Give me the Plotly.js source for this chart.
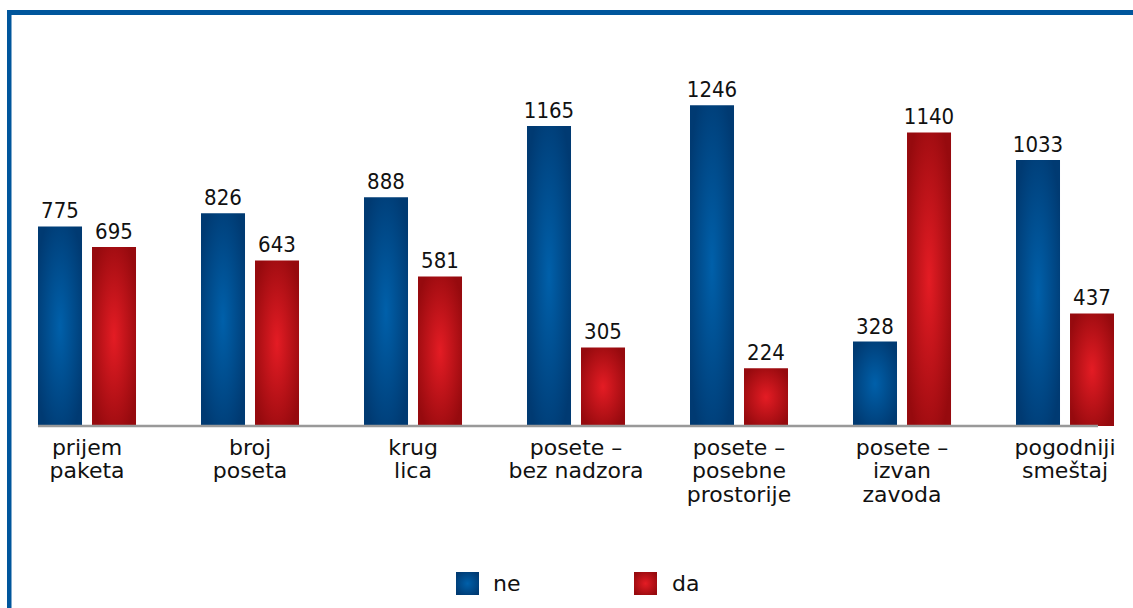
<!DOCTYPE html>
<html>
<head>
<meta charset="utf-8">
<script src="https://cdn.plot.ly/plotly-3.0.1.min.js"></script>
<style>
html,body{margin:0;padding:0;background:#fff;}
#chart{width:1133px;height:608px;}
</style>
</head>
<body>
<div id="chart"></div>
<script>
// ---- data ----
const categories = ['prijem paketa', 'broj poseta', 'krug lica', 'posete – bez nadzora', 'posete – posebne prostorije', 'posete – izvan zavoda', 'pogodniji smeštaj'];
const categoryLines = [
  ['prijem', 'paketa'],
  ['broj', 'poseta'],
  ['krug', 'lica'],
  ['posete –', 'bez nadzora'],
  ['posete –', 'posebne', 'prostorije'],
  ['posete –', 'izvan', 'zavoda'],
  ['pogodniji', 'smeštaj']
];
const seriesNames = ['ne', 'da'];
const neValues = [775, 826, 888, 1165, 1246, 328, 1033];
const daValues = [695, 643, 581, 305, 224, 1140, 437];

// ---- layout helpers (pixel geometry) ----
const W = 1133, H = 608;
const mL = 38, mR = 19, mT = 60, mB = 182;
const plotW = W - mL - mR, plotH = H - mT - mB;
const px2x = px => (px - mL) / plotW;
const py2y = py => (H - mB - py) / plotH;

const numFont = {family: 'DejaVu Sans Condensed, DejaVu Sans, sans-serif', size: 22, color: '#111'};
const tickText = categoryLines.map(lines => lines.map(l => '<span style="font-size:22px">' + l + '</span>').join('<br>'));

const traces = [
  {
    type: 'bar', name: seriesNames[0], x: categories, y: neValues,
    offset: -0.3006, width: 0.27,
    marker: {color: '#004a8a', line: {width: 0}},
    text: neValues.map(String), textposition: 'outside', cliponaxis: false,
    constraintext: 'none',
    textfont: numFont, hoverinfo: 'x+y'
  },
  {
    type: 'bar', name: seriesNames[1], x: categories, y: daValues,
    offset: 0.0307, width: 0.27,
    marker: {color: '#b8111a', line: {width: 0}},
    text: daValues.map(String), textposition: 'outside', cliponaxis: false,
    constraintext: 'none',
    textfont: numFont, hoverinfo: 'x+y'
  }
];

const blue = '#00569c';
const layout = {
  width: W, height: H,
  margin: {l: mL, r: mR, t: mT, b: mB, pad: 0},
  paper_bgcolor: '#ffffff', plot_bgcolor: '#ffffff',
  showlegend: false,
  barmode: 'overlay',
  font: {family: 'DejaVu Sans, sans-serif', color: '#111'},
  xaxis: {
    type: 'category', range: [-0.3006, 6.3006],
    tickvals: categories, ticktext: tickText,
    tickfont: {family: 'DejaVu Sans, sans-serif', size: 18, color: '#111'},
    showgrid: false, zeroline: false, showline: false, ticks: '', fixedrange: true,
    ticklabelstandoff: 10
  },
  yaxis: {
    range: [0, 1421.4], showgrid: false, zeroline: false, showline: false,
    showticklabels: false, ticks: '', fixedrange: true
  },
  shapes: [
    // axis baseline
    {type: 'line', xref: 'paper', yref: 'paper', x0: 0, x1: px2x(1098), y0: 0, y1: 0,
     line: {color: '#999999', width: 2.5}, layer: 'above'},
    // frame: left and top border
    {type: 'rect', xref: 'paper', yref: 'paper', x0: px2x(7), x1: px2x(11.5), y0: py2y(610), y1: py2y(10),
     fillcolor: blue, line: {width: 0}},
    {type: 'rect', xref: 'paper', yref: 'paper', x0: px2x(7), x1: px2x(1135), y0: py2y(15), y1: py2y(10),
     fillcolor: blue, line: {width: 0}},
    // legend swatches
    {type: 'rect', xref: 'paper', yref: 'paper', x0: px2x(456), x1: px2x(479), y0: py2y(595), y1: py2y(572),
     fillcolor: '#004a8a', line: {width: 0}},
    {type: 'rect', xref: 'paper', yref: 'paper', x0: px2x(634), x1: px2x(657), y0: py2y(595), y1: py2y(572),
     fillcolor: '#b8111a', line: {width: 0}}
  ],
  annotations: [
    {xref: 'paper', yref: 'paper', x: px2x(491), y: py2y(583), xanchor: 'left', yanchor: 'middle',
     text: seriesNames[0], showarrow: false, font: {family: 'DejaVu Sans, sans-serif', size: 22, color: '#111'}},
    {xref: 'paper', yref: 'paper', x: px2x(670), y: py2y(583), xanchor: 'left', yanchor: 'middle',
     text: seriesNames[1], showarrow: false, font: {family: 'DejaVu Sans, sans-serif', size: 22, color: '#111'}}
  ]
};

function addGradients(gd) {
  const svg = gd.querySelector('svg.main-svg');
  if (!svg) return;
  const NS = 'http://www.w3.org/2000/svg';
  let defs = svg.querySelector('defs');
  if (!defs) { defs = document.createElementNS(NS, 'defs'); svg.insertBefore(defs, svg.firstChild); }
  function grad(id, inner, outer) {
    const g = document.createElementNS(NS, 'radialGradient');
    g.setAttribute('id', id);
    g.setAttribute('cx', '0.5'); g.setAttribute('cy', '0.5'); g.setAttribute('r', '0.6');
    [[0, inner], [1, outer]].forEach(([o, c]) => {
      const s = document.createElementNS(NS, 'stop');
      s.setAttribute('offset', o); s.setAttribute('stop-color', c);
      g.appendChild(s);
    });
    defs.appendChild(g);
  }
  grad('gradNe', '#0060aa', '#003a72');
  grad('gradDa', '#e41c24', '#960a0e');
  const barTraces = gd.querySelectorAll('g.trace.bars');
  barTraces.forEach((t, i) => {
    t.querySelectorAll('.point path').forEach(p => { p.style.fill = i === 0 ? 'url(#gradNe)' : 'url(#gradDa)'; });
  });
  gd.querySelectorAll('.shapelayer path').forEach(p => {
    const idx = p.getAttribute('data-index');
    if (idx === '3') p.style.fill = 'url(#gradNe)';
    if (idx === '4') p.style.fill = 'url(#gradDa)';
  });
}

Plotly.newPlot('chart', traces, layout, {displayModeBar: false, staticPlot: true}).then(addGradients);
</script>
</body>
</html>
